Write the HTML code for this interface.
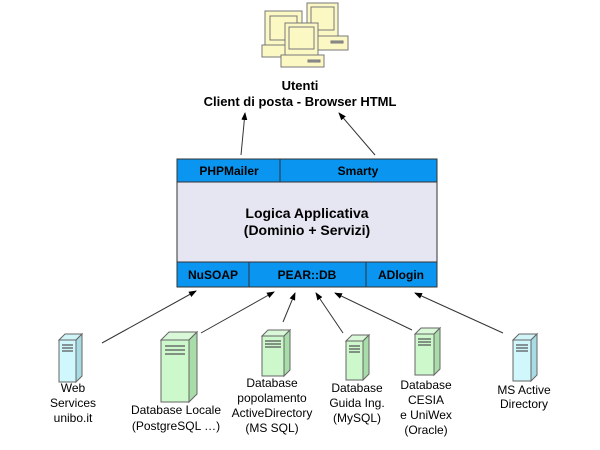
<!DOCTYPE html>
<html><head><meta charset="utf-8"><style>
html,body{margin:0;padding:0;background:#fff;}
svg{display:block;font-family:"Liberation Sans",Arial,sans-serif;}
</style></head><body>
<svg width="600" height="450" viewBox="0 0 600 450" xmlns="http://www.w3.org/2000/svg">
<defs>
<marker id="ah" markerWidth="8" markerHeight="8" refX="7" refY="4" orient="auto" markerUnits="userSpaceOnUse">
<path d="M0,1 L8,4 L0,7 Z" fill="#000"/></marker>
<g id="srv">
</g>
</defs>
<!-- computers -->
<g fill="#fcf8c4" stroke="#777" stroke-width="1">
<rect x="265" y="11" width="37" height="34"/><rect x="270" y="16" width="27" height="24" fill="#fcf8c4"/>
<rect x="262" y="45" width="28" height="12"/>
<rect x="307" y="3" width="31" height="33"/><rect x="311" y="7" width="23" height="23"/>
<rect x="303" y="36" width="45" height="14"/><rect x="331" y="41" width="12" height="2" fill="#999"/>
<rect x="285" y="23" width="33" height="32"/><rect x="289" y="27" width="25" height="22"/>
<rect x="281" y="55" width="43" height="12"/><rect x="308" y="60" width="12" height="2" fill="#999"/>
</g>
<text x="300" y="90" font-size="13" font-weight="bold" text-anchor="middle">Utenti</text>
<text x="300" y="106" font-size="13" font-weight="bold" text-anchor="middle">Client di posta - Browser HTML</text>
<!-- top arrows -->
<g stroke="#333" stroke-width="1" marker-end="url(#ah)">
<line x1="241" y1="155" x2="245" y2="113"/>
<line x1="375" y1="155" x2="339" y2="113"/>
</g>
<!-- box -->
<rect x="177" y="159" width="260" height="128" fill="#e6e6f2" stroke="#333"/>
<rect x="177" y="159" width="260" height="23" fill="#0a96f0" stroke="#333"/>
<line x1="280" y1="159" x2="280" y2="182" stroke="#333"/>
<rect x="177" y="262" width="260" height="25" fill="#0a96f0" stroke="#333"/>
<line x1="249" y1="262" x2="249" y2="287" stroke="#333"/>
<line x1="366" y1="262" x2="366" y2="287" stroke="#333"/>
<g font-size="12" font-weight="bold" text-anchor="middle">
<text x="229" y="175">PHPMailer</text>
<text x="358" y="175">Smarty</text>
<text x="213" y="279">NuSOAP</text>
<text x="307" y="279">PEAR::DB</text>
<text x="401" y="279">ADlogin</text>
</g>
<text x="307" y="218" font-size="14" font-weight="bold" text-anchor="middle">Logica Applicativa</text>
<text x="307" y="235" font-size="14" font-weight="bold" text-anchor="middle">(Dominio + Servizi)</text>
<!-- bottom arrows -->
<g stroke="#333" stroke-width="1" marker-end="url(#ah)">
<line x1="102" y1="343" x2="196" y2="291"/>
<line x1="201" y1="333" x2="274" y2="292"/>
<line x1="283" y1="322" x2="295" y2="293"/>
<line x1="343" y1="333" x2="316" y2="293"/>
<line x1="412" y1="330" x2="335" y2="293"/>
<line x1="503" y1="333" x2="415" y2="293"/>
</g>
<!-- servers -->
<g stroke="#666" stroke-width="1">
<!-- web: x59 y334 w17 h48 d6 cyan -->
<path d="M59,340 L65,334 L82,334 L76,340 Z" fill="#d0f4f8"/><path d="M76,340 L82,334 L82,376 L76,382 Z" fill="#a8dce4"/><rect x="59" y="340" width="17" height="42" fill="#d0f8fc"/>
<path d="M161,340 L169,332 L197,332 L189,340 Z" fill="#d8f8d8"/><path d="M189,340 L197,332 L197,394 L189,402 Z" fill="#a8dca8"/><rect x="161" y="340" width="28" height="62" fill="#ccf8cc"/>
<path d="M262,336 L268,330 L290,330 L284,336 Z" fill="#d8f8d8"/><path d="M284,336 L290,330 L290,370 L284,376 Z" fill="#a8dca8"/><rect x="262" y="336" width="22" height="40" fill="#ccf8cc"/>
<path d="M346,341 L352,335 L369,335 L363,341 Z" fill="#d8f8d8"/><path d="M363,341 L369,335 L369,374 L363,380 Z" fill="#a8dca8"/><rect x="346" y="341" width="17" height="39" fill="#ccf8cc"/>
<path d="M415,334 L421,328 L440,328 L434,334 Z" fill="#d8f8d8"/><path d="M434,334 L440,328 L440,369 L434,375 Z" fill="#a8dca8"/><rect x="415" y="334" width="19" height="41" fill="#ccf8cc"/>
<path d="M513,340 L519,334 L537,334 L531,340 Z" fill="#d0f4f8"/><path d="M531,340 L537,334 L537,375 L531,381 Z" fill="#a8dce4"/><rect x="513" y="340" width="18" height="41" fill="#d0f8fc"/>
</g>
<g stroke="#555" stroke-width="1.3">
<path d="M62,345h11M62,348h11M62,351h11"/>
<path d="M165,346h20M165,350h20M165,354h20"/>
<path d="M265,341h16M265,344h16M265,347h16"/>
<path d="M349,346h11M349,349h11M349,352h11"/>
<path d="M418,339h13M418,342h13M418,345h13"/>
<path d="M516,345h12M516,348h12M516,351h12"/>
</g>
<g font-size="12" text-anchor="middle" fill="#000">
<text x="73" y="392">Web</text><text x="73" y="407">Services</text><text x="73" y="422">unibo.it</text>
<text x="176" y="414">Database Locale</text><text x="176" y="430">(PostgreSQL …)</text>
<text x="272" y="387">Database</text><text x="272" y="402">popolamento</text><text x="272" y="417">ActiveDirectory</text><text x="272" y="432">(MS SQL)</text>
<text x="357" y="392">Database</text><text x="357" y="407">Guida Ing.</text><text x="357" y="422">(MySQL)</text>
<text x="426" y="389">Database</text><text x="426" y="404">CESIA</text><text x="426" y="419">e UniWex</text><text x="426" y="434">(Oracle)</text>
<text x="524" y="394">MS Active</text><text x="524" y="408">Directory</text>
</g>
</svg>
</body></html>
